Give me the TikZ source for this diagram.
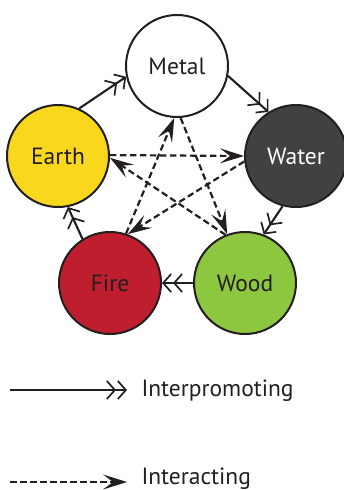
\documentclass[tikz,border=0pt]{standalone}
\usepackage{fontspec}
\setmainfont{PT Sans}
\usetikzlibrary{arrows.meta}
\definecolor{earthc}{HTML}{F9D71C}
\definecolor{waterc}{HTML}{414141}
\definecolor{firec}{HTML}{BE1E2D}
\definecolor{woodc}{HTML}{8DC63F}
\definecolor{inkc}{HTML}{231F20}
\begin{document}
\begin{tikzpicture}[x=1pt,y=-1pt,
  element/.style={circle,draw=inkc,line width=2pt,minimum size=102pt,inner sep=0pt,
    font=\fontsize{23.5}{28}\selectfont,text=inkc},
  promote/.style={draw=inkc,line width=2.1pt,
    -{Straight Barb[length=8pt,width=18pt,line width=1.7pt,sep=1pt] Straight Barb[length=8pt,width=18pt,line width=1.7pt]}},
  interact/.style={draw=inkc,line width=2.2pt,dash pattern=on 6.5pt off 3.5pt,
    -{Stealth[length=24pt,width=15pt,inset=10pt]}},
  legendtext/.style={anchor=west,font=\fontsize{23.5}{28}\selectfont,text=inkc}]
\useasboundingbox (0,0) rectangle (343,490);

% the five elements
\node[element,fill=white] (metal) at (177,66) {Metal};
\node[element,fill=earthc] (earth) at (58,156) {Earth};
\node[element,fill=waterc,text=white] (water) at (296,156) {Water};
\node[element,fill=firec] (fire) at (110,283) {Fire};
\node[element,fill=woodc] (wood) at (245,283) {Wood};

% generating cycle
\draw[promote] (earth.66) -- (metal.192);
\draw[promote] (metal.-11) -- (water.122);
\draw[promote] (water.-105) -- (wood.69);
\draw[promote] (wood.180) -- (fire.0);
\draw[promote] (fire.122) -- (earth.-79);

% controlling star
\draw[interact] (earth.1) -- (water.180);
\draw[interact] (water.186) -- (fire.70);
\draw[interact] (fire.72) -- (metal.-93);
\draw[interact] (metal.-86) -- (wood.110);
\draw[interact] (wood.112) -- (earth.-2);

% legend
\coordinate (l1a) at (10,390);
\coordinate (l1b) at (127,390);
\draw[promote] (l1a) -- (l1b);
\node[legendtext] (ltxt1) at (138,391) {Interpromoting};
\coordinate (l2a) at (10,482);
\coordinate (l2b) at (127,482);
\draw[interact] (l2a) -- (l2b);
\node[legendtext] (ltxt2) at (138,479) {Interacting};
\end{tikzpicture}
\end{document}
